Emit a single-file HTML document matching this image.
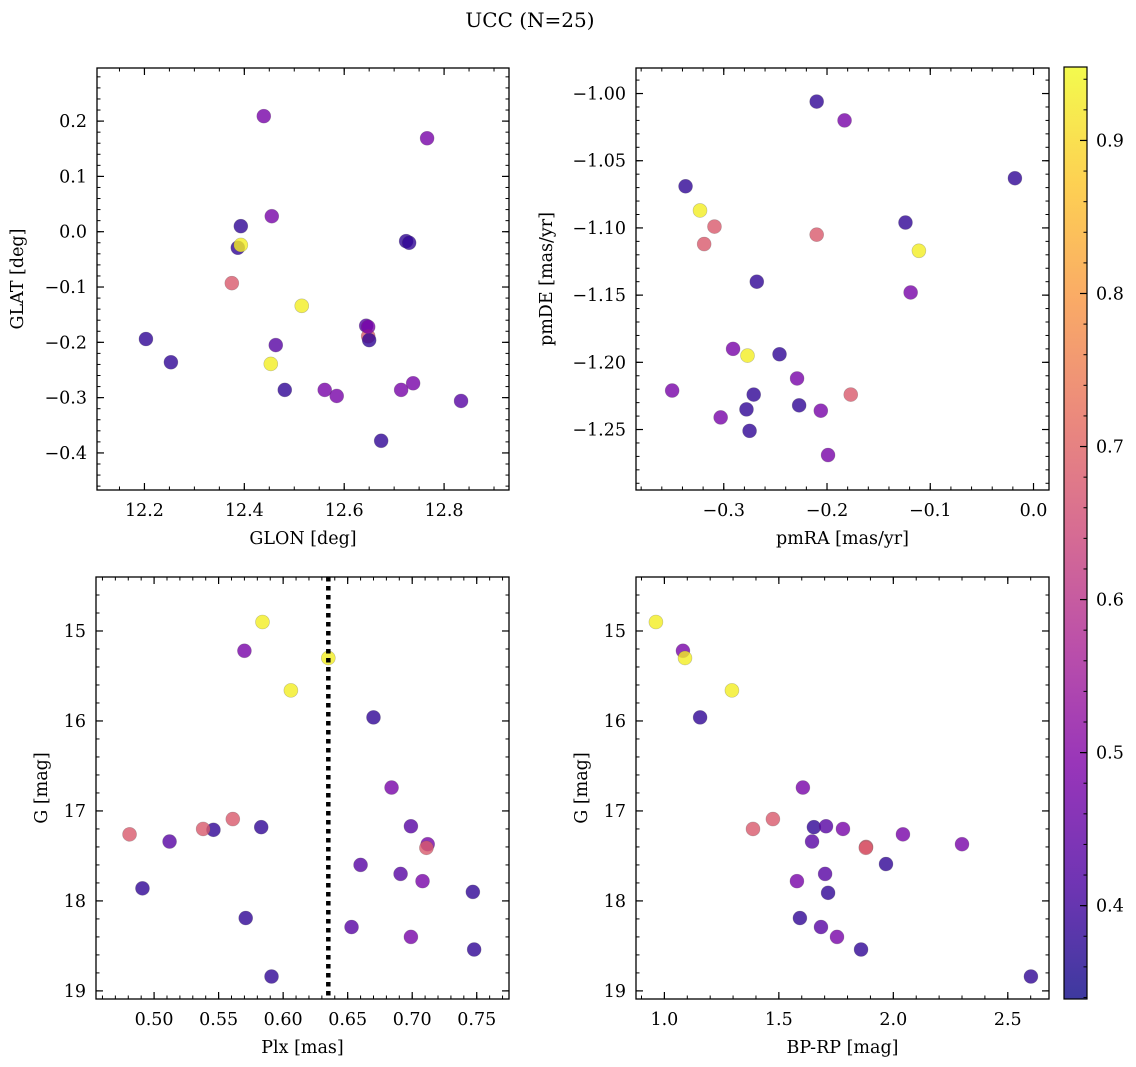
<!DOCTYPE html>
<html><head><meta charset="utf-8"><style>
html,body{margin:0;padding:0;background:#fff;}
svg{display:block;font-family:"DejaVu Serif","Liberation Serif",serif;}
</style></head><body>
<svg id="fig" width="1136" height="1067" viewBox="0 0 1136 1067" xmlns="http://www.w3.org/2000/svg">
<text x="530" y="27" font-size="20" text-anchor="middle">UCC (N=25)</text>
</svg>
<script>
// ---- data ----
const glon = [12.203,12.253,12.439,12.766,12.393,12.455,12.387,12.393,12.375,12.515,12.463,12.453,12.481,12.561,12.585,12.674,12.644,12.648,12.650,12.724,12.730,12.714,12.738,12.834,12.648];
const glat = [-0.194,-0.236,0.209,0.169,0.010,0.028,-0.029,-0.024,-0.093,-0.134,-0.205,-0.239,-0.286,-0.286,-0.297,-0.378,-0.170,-0.189,-0.196,-0.017,-0.020,-0.286,-0.274,-0.306,-0.172];
const probTL = [0.38,0.38,0.48,0.48,0.38,0.48,0.38,0.93,0.68,0.93,0.43,0.93,0.38,0.48,0.48,0.38,0.43,0.68,0.38,0.38,0.38,0.48,0.48,0.43,0.48];

const pmra = [-0.210,-0.183,-0.018,-0.337,-0.323,-0.309,-0.124,-0.210,-0.111,-0.319,-0.268,-0.119,-0.291,-0.277,-0.246,-0.229,-0.350,-0.271,-0.177,-0.303,-0.278,-0.227,-0.206,-0.275,-0.199];
const pmde = [-1.006,-1.020,-1.063,-1.069,-1.087,-1.099,-1.096,-1.105,-1.117,-1.112,-1.140,-1.148,-1.190,-1.195,-1.194,-1.212,-1.221,-1.224,-1.224,-1.241,-1.235,-1.232,-1.236,-1.251,-1.269];
const probTR = [0.38,0.48,0.38,0.38,0.93,0.68,0.38,0.68,0.93,0.68,0.38,0.48,0.48,0.93,0.38,0.48,0.48,0.38,0.68,0.48,0.38,0.38,0.48,0.38,0.48];

const plx = [0.584,0.570,0.635,0.606,0.670,0.684,0.481,0.512,0.546,0.538,0.561,0.583,0.699,0.712,0.711,0.660,0.691,0.708,0.747,0.491,0.571,0.653,0.699,0.748,0.591];
const gmagBL = [14.90,15.22,15.30,15.66,15.96,16.74,17.26,17.34,17.21,17.20,17.09,17.18,17.17,17.37,17.41,17.60,17.70,17.78,17.90,17.86,18.19,18.29,18.40,18.54,18.84];
const probBL = [0.93,0.48,0.93,0.93,0.38,0.48,0.68,0.43,0.38,0.68,0.68,0.38,0.43,0.48,0.68,0.43,0.43,0.48,0.38,0.38,0.38,0.43,0.48,0.38,0.38];

const bprp = [0.963,1.081,1.090,1.295,1.156,1.605,1.387,1.474,1.653,1.706,1.780,1.645,1.881,2.042,2.300,1.968,1.702,1.715,1.579,1.592,1.684,1.754,1.859,2.601,1.880];
const gmagBR = [14.90,15.22,15.30,15.66,15.96,16.74,17.20,17.09,17.18,17.17,17.20,17.34,17.40,17.26,17.37,17.59,17.70,17.91,17.78,18.19,18.29,18.40,18.54,18.84,17.41];
const probBR = [0.93,0.48,0.93,0.93,0.38,0.48,0.68,0.68,0.38,0.43,0.48,0.43,0.68,0.48,0.48,0.38,0.43,0.38,0.48,0.38,0.43,0.48,0.38,0.38,0.68];

const plxCut = [0.635];
const ticksGlon = [12.2,12.4,12.6,12.8];
const ticksGlat = [0.2,0.1,0.0,-0.1,-0.2,-0.3,-0.4];
const ticksPmra = [-0.3,-0.2,-0.1,0.0];
const ticksPmde = [-1.00,-1.05,-1.10,-1.15,-1.20,-1.25];
const ticksPlx = [0.50,0.55,0.60,0.65,0.70,0.75];
const ticksBprp = [1.0,1.5,2.0,2.5];
const ticksG = [15,16,17,18,19];
const ticksCb = [0.4,0.5,0.6,0.7,0.8,0.9];
const cRange = [0.339,0.948];

// ---- helpers ----
const NS="http://www.w3.org/2000/svg";
const svg=document.getElementById('fig');
const FS=17.5;
function mk(tag,attrs,parent){const e=document.createElementNS(NS,tag);for(const k in attrs)e.setAttribute(k,attrs[k]);(parent||svg).appendChild(e);return e;}
const stops=[[13,8,135],[76,2,161],[126,3,168],[169,35,149],[204,71,120],[230,108,92],[248,149,64],[253,197,39],[240,249,33]];
function plasma(t){t=Math.max(0,Math.min(1,t));const p=t*8,i=Math.min(7,Math.floor(p)),f=p-i;const a=stops[i],b=stops[i+1];
 return 'rgb('+[0,1,2].map(k=>Math.round(a[k]+(b[k]-a[k])*f)).join(',')+')';}
function cval(v){return plasma((v-cRange[0])/(cRange[1]-cRange[0]));}
function lin(d0,d1,r0,r1){return v=>r0+(v-d0)/(d1-d0)*(r1-r0);}
function fmt(v,dec){let s=v.toFixed(dec);if(v<-1e-9)s='\u2212'+s.slice(1);return s;}

function panel(name,box,xd,yd,xt,yt,xdec,ydec,xminor,yminor,xlab,ylab,ylabX,xs,ys,cs){
 const g=mk('g',{});
 
 
 const X=lin(xd[0],xd[1],box.x0,box.x1),Y=lin(yd[0],yd[1],box.y0,box.y1);
 const pts=mk('g',{},g);
 
 
 for(let i=0;i<xs.length;i++){
  const c=mk('circle',{cx:X(xs[i]),cy:Y(ys[i]),r:7,fill:cval(cs[i]),'fill-opacity':0.8,stroke:'#555','stroke-opacity':0.35,'stroke-width':0.6},pts);
  
  
 }
 const fr=mk('rect',{x:box.x0,y:box.y0,width:box.x1-box.x0,height:box.y1-box.y0,fill:'none',stroke:'#000','stroke-width':1.3},g);
 
 
 const lo=Math.min(xd[0],xd[1]),hi=Math.max(xd[0],xd[1]);
 for(let v=Math.ceil(lo/xminor-1e-6)*xminor;v<=hi+1e-9;v+=xminor){const x=X(v);
  mk('line',{x1:x,x2:x,y1:box.y1,y2:box.y1-3.5,stroke:'#000','stroke-width':1},g);
  mk('line',{x1:x,x2:x,y1:box.y0,y2:box.y0+3.5,stroke:'#000','stroke-width':1},g);}
 const ylo=Math.min(yd[0],yd[1]),yhi=Math.max(yd[0],yd[1]);
 for(let v=Math.ceil(ylo/yminor-1e-6)*yminor;v<=yhi+1e-9;v+=yminor){const y=Y(v);
  mk('line',{x1:box.x0,x2:box.x0+3.5,y1:y,y2:y,stroke:'#000','stroke-width':1},g);
  mk('line',{x1:box.x1,x2:box.x1-3.5,y1:y,y2:y,stroke:'#000','stroke-width':1},g);}
 xt.forEach(v=>{const x=X(v);
  mk('line',{x1:x,x2:x,y1:box.y1,y2:box.y1-7,stroke:'#000','stroke-width':1.2},g);
  mk('line',{x1:x,x2:x,y1:box.y0,y2:box.y0+7,stroke:'#000','stroke-width':1.2},g);
  const t=mk('text',{x:x,y:box.y1+26,'font-size':FS,'text-anchor':'middle'},g);t.textContent=fmt(v,xdec);
  
  });
 yt.forEach(v=>{const y=Y(v);
  mk('line',{x1:box.x0,x2:box.x0+7,y1:y,y2:y,stroke:'#000','stroke-width':1.2},g);
  mk('line',{x1:box.x1,x2:box.x1-7,y1:y,y2:y,stroke:'#000','stroke-width':1.2},g);
  const t=mk('text',{x:box.x0-10,y:y+6,'font-size':FS,'text-anchor':'end'},g);t.textContent=fmt(v,ydec);
  
  });
 const xl=mk('text',{x:(box.x0+box.x1)/2,y:box.y1+54,'font-size':FS,'text-anchor':'middle'},g);xl.textContent=xlab;
 
 
 const cy=(box.y0+box.y1)/2;
 const yl=mk('text',{x:ylabX,y:cy,'font-size':FS,'text-anchor':'middle',transform:'rotate(-90 '+ylabX+' '+cy+')'},g);yl.textContent=ylab;
 
 
 return {X,Y,g};
}

panel('glon-glat-panel',{x0:97,x1:509,y0:68,y1:490},[12.105,12.93],[0.296,-0.467],ticksGlon,ticksGlat,1,1,0.05,0.02,'GLON [deg]','GLAT [deg]',23,glon,glat,probTL);
panel('pm-panel',{x0:636,x1:1049,y0:68,y1:490},[-0.385,0.015],[-0.981,-1.295],ticksPmra,ticksPmde,1,2,0.02,0.01,'pmRA [mas/yr]','pmDE [mas/yr]',552,pmra,pmde,probTR);
const bl=panel('plx-g-panel',{x0:96,x1:509,y0:577,y1:999},[0.455,0.775],[14.4,19.09],ticksPlx,ticksG,2,0,0.01,0.2,'Plx [mas]','G [mag]',47,plx,gmagBL,probBL);
panel('cmd-panel',{x0:636,x1:1049,y0:577,y1:999},[0.876,2.68],[14.4,19.09],ticksBprp,ticksG,1,0,0.1,0.2,'BP-RP [mag]','G [mag]',587,bprp,gmagBR,probBR);

plxCut.forEach(v=>{const l=mk('line',{x1:bl.X(v),x2:bl.X(v),y1:577,y2:999,stroke:'#000','stroke-width':4.5,'stroke-dasharray':'4.5 4.5'},bl.g);
 
 });

// colorbar
const cb=mk('g',{});


const cy0=67,cy1=999,cx0=1064,cx1=1087;
const CY=lin(cRange[0],cRange[1],cy1,cy0);
const defs=mk('defs',{},cb);
const grad=mk('linearGradient',{id:'cbg',x1:0,y1:1,x2:0,y2:0},defs);
stops.forEach((s,i)=>mk('stop',{offset:i/8,'stop-color':'rgb('+s.join(',')+')','stop-opacity':0.8},grad));
mk('rect',{x:cx0,y:cy0,width:cx1-cx0,height:cy1-cy0,fill:'url(#cbg)',stroke:'#000','stroke-width':1.2},cb);
for(let v=0.34;v<=cRange[1];v+=0.02){mk('line',{x1:cx1,x2:cx1-3.5,y1:CY(v),y2:CY(v),stroke:'#000','stroke-width':1},cb);}
ticksCb.forEach(v=>{const y=CY(v);
 mk('line',{x1:cx1,x2:cx1-7,y1:y,y2:y,stroke:'#000','stroke-width':1.2},cb);
 const t=mk('text',{x:cx1+9,y:y+6,'font-size':FS},cb);t.textContent=v.toFixed(1);
 
 });
</script>
</body></html>
